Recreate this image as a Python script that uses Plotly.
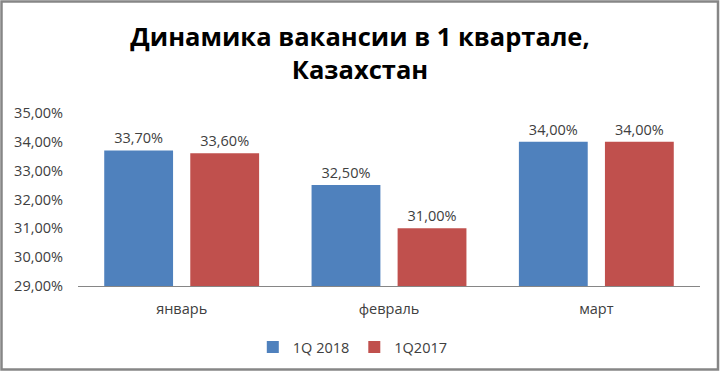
import plotly.graph_objects as go

categories = ["январь", "февраль", "март"]
series_names = ["1Q 2018", "1Q2017"]
values_2018 = [33.7, 32.5, 34.0]
values_2017 = [33.6, 31.0, 34.0]
tick_vals = [29, 30, 31, 32, 33, 34, 35]
tick_text = ["29,00%", "30,00%", "31,00%", "32,00%", "33,00%", "34,00%", "35,00%"]
colors = ["#4F81BD", "#C0504D"]

def fmt(v):
    return f"{v:.2f}".replace(".", ",") + "%"

W, H = 720, 372
ml, mr, mt, mb = 78, 20, 113, 86
font = "Open Sans, Noto Sans, sans-serif"

fig = go.Figure()
for name, vals, col in zip(series_names, [values_2018, values_2017], colors):
    fig.add_trace(go.Bar(
        x=categories, y=vals, name=name, marker_color=col,
        marker_line_width=0,
        text=[fmt(v) for v in vals], textposition="outside",
        textfont=dict(size=14.5, color="#404040", family=font),
        cliponaxis=False,
    ))

pw = W - ml - mr
ph = H - mt - mb
# outer frame (pixel positions converted to paper coordinates)
fx0, fx1, fy0, fy1 = 1.5, W - 2, 1.5, H - 2.5
fig.add_shape(type="rect", xref="paper", yref="paper",
              x0=(fx0 - ml) / pw, x1=(fx1 - ml) / pw,
              y0=(H - mb - fy1) / ph, y1=(H - mb - fy0) / ph,
              line=dict(color="#868686", width=2.5))

fig.update_layout(
    width=W, height=H,
    margin=dict(l=ml, r=mr, t=mt, b=mb, autoexpand=False),
    paper_bgcolor="white", plot_bgcolor="white",
    title=dict(text="<b>Динамика вакансии в 1 квартале,<br>Казахстан</b>",
               x=0.5, xanchor="center", xref="container",
               y=1 - 46 / H, yanchor="top", yref="container",
               font=dict(size=25.5, color="black", family=font)),
    barmode="group", bargap=0.17, bargroupgap=0.2,
    showlegend=True,
    legend=dict(orientation="h", x=0.49, xanchor="center", xref="container",
                y=(H - 347) / H, yanchor="middle", yref="container",
                font=dict(size=14.5, color="#404040", family=font),
                itemwidth=30),
    xaxis=dict(showline=True, linecolor="#868686", linewidth=1,
               ticks="", ticklabelstandoff=10,
               tickfont=dict(size=14.5, color="#404040", family=font)),
    yaxis=dict(range=[29, 35], tickvals=tick_vals, ticktext=tick_text,
               showgrid=False, zeroline=False, showline=False,
               ticks="", ticklabelstandoff=14,
               tickfont=dict(size=14.5, color="#404040", family=font)),
)

fig.write_html("out.html", config={"displayModeBar": False},
               post_script="document.body.style.margin='0';document.body.style.overflow='hidden';")
